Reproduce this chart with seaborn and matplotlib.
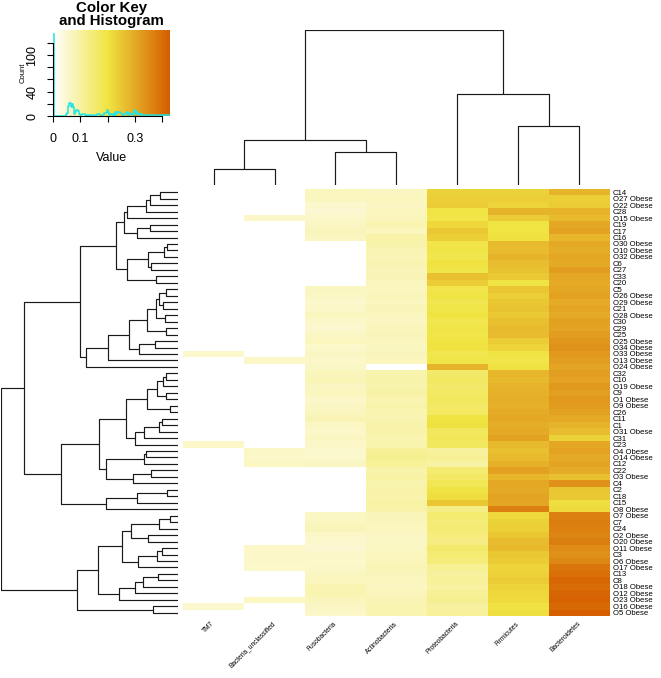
import numpy as np
import pandas as pd
import seaborn as sns
import matplotlib.pyplot as plt
from matplotlib.colors import LinearSegmentedColormap

# rows in the displayed (clustered) order
samples = [
    "C14", "O27 Obese", "O22 Obese", "C28", "O15 Obese", "C19", "C17", "C16",
    "O30 Obese", "O10 Obese", "O32 Obese", "C6", "C27", "C33", "C20", "C5",
    "O26 Obese", "O29 Obese", "C21", "O28 Obese", "C30", "C29", "C25",
    "O25 Obese", "O34 Obese", "O33 Obese", "O13 Obese", "O24 Obese", "C32",
    "C10", "O19 Obese", "C9", "O1 Obese", "O9 Obese", "C26", "C11", "C1",
    "O31 Obese", "C31", "C23", "O4 Obese", "O14 Obese", "C12", "C22",
    "O3 Obese", "C4", "C2", "C18", "C15", "O8 Obese", "O7 Obese", "C7", "C24",
    "O2 Obese", "O20 Obese", "O11 Obese", "C3", "O6 Obese", "O17 Obese", "C13",
    "C8", "O18 Obese", "O12 Obese", "O23 Obese", "O16 Obese", "O5 Obese",
]
phyla = ["TM7", "Bacteria_unclassified", "Fusobacteria", "Actinobacteria",
         "Proteobacteria", "Firmicutes", "Bacteroidetes"]

tm7 = [0.0] * 66
tm7[25], tm7[39], tm7[64] = 0.056, 0.058, 0.055

bact_uncl = [0.0] * 66
for i, v in zip([4, 26, 40, 41, 42, 55, 56, 57, 58, 63],
                [0.057, 0.059, 0.061, 0.058, 0.063, 0.057, 0.060, 0.058, 0.056, 0.062]):
    bact_uncl[i] = v

fuso = [0.071, 0.067, 0.053, 0.049, 0.058, 0.064, 0.074, 0.066,
        0, 0, 0, 0, 0, 0, 0,
        0.066, 0.062, 0.055, 0.060, 0.068, 0.057, 0.051, 0.062, 0.070, 0.056, 0.064, 0.058, 0.061,
        0.072, 0.077, 0.066, 0.070, 0.060, 0.064, 0.068, 0.079, 0.062, 0.058, 0.066, 0.060, 0.054, 0.056, 0.064,
        0, 0, 0, 0, 0, 0, 0,
        0.062, 0.068, 0.074, 0.058, 0.053, 0.050, 0.060, 0.056, 0.060, 0.066, 0.070, 0.082, 0.086,
        0.072, 0.064, 0.058]

actino = [0.066, 0.071, 0.064, 0.069, 0.072,
          0.086, 0.070, 0.092, 0.089,
          0.081, 0.077, 0.083, 0.074, 0.079, 0.073,
          0.070, 0.073, 0.068, 0.076, 0.071, 0.066, 0.072, 0.075, 0.069, 0.067, 0.074, 0.071,
          0.0,
          0.087, 0.091, 0.088, 0.094, 0.085, 0.090, 0.086, 0.083, 0.089, 0.093, 0.084, 0.087,
          0.112, 0.118, 0.108,
          0.091, 0.096, 0.088, 0.093, 0.090, 0.097, 0.092,
          0.076, 0.073, 0.070, 0.064, 0.062, 0.066, 0.070, 0.073, 0.077, 0.074, 0.071, 0.068, 0.072,
          0.079, 0.082, 0.086]

proteo = [0.232, 0.236, 0.243, 0.201, 0.193, 0.222, 0.248, 0.238, 0.192, 0.197, 0.189, 0.203, 0.195, 0.262, 0.241,
          0.191, 0.198, 0.186, 0.194, 0.202, 0.188, 0.197, 0.193, 0.199, 0.204, 0.190, 0.196,
          0.283,
          0.161, 0.168, 0.158, 0.166, 0.172, 0.163, 0.167,
          0.201, 0.207,
          0.171, 0.176, 0.169,
          0.104, 0.112, 0.098,
          0.152, 0.163, 0.182, 0.198, 0.211, 0.252, 0.128,
          0.151, 0.143, 0.148, 0.139, 0.132, 0.158, 0.149, 0.141, 0.113, 0.102, 0.108, 0.099, 0.111,
          0.118, 0.103, 0.109]

firmic = [0.231, 0.236, 0.228, 0.281, 0.243, 0.199, 0.202, 0.207, 0.272, 0.268, 0.284, 0.266, 0.258, 0.247, 0.198,
          0.252, 0.238, 0.249, 0.256, 0.246, 0.262,
          0.271, 0.268, 0.241, 0.229, 0.201, 0.192, 0.204,
          0.279, 0.274, 0.283, 0.287, 0.291, 0.288, 0.296, 0.302, 0.292, 0.299, 0.312, 0.273, 0.262, 0.271,
          0.289, 0.314, 0.279, 0.301, 0.298, 0.309, 0.303, 0.371,
          0.221, 0.232, 0.238, 0.252, 0.268, 0.273, 0.249, 0.242, 0.228, 0.233, 0.241, 0.229, 0.222,
          0.218, 0.203, 0.212]

bacteroid = [0.281, 0.238, 0.244, 0.283, 0.272, 0.302, 0.311, 0.278, 0.298, 0.293, 0.304, 0.299, 0.322, 0.301,
             0.297, 0.303, 0.312, 0.296, 0.306, 0.300, 0.314,
             0.309, 0.321, 0.334, 0.341, 0.328, 0.318, 0.307, 0.319, 0.311, 0.327, 0.316, 0.331, 0.323,
             0.313, 0.298, 0.282, 0.268, 0.231, 0.303, 0.312, 0.298,
             0.308, 0.297, 0.261, 0.342, 0.253, 0.248, 0.212, 0.219,
             0.368, 0.376, 0.371, 0.362, 0.374, 0.351, 0.344, 0.358, 0.389, 0.398, 0.412, 0.403, 0.416,
             0.421, 0.409, 0.428]

# dendrograms as (merge height, left, right); ints are leaf positions
def N(h, a, b):
    return (h, a, b)

grp_a = N(54.7, N(50.7, N(32.3, N(28.3, N(18.3, 0, 1), 2), 3), 4), N(41.0, N(28.3, 5, 6), 7))
grp_b = N(50.7, N(30.0, N(14.3, N(11.0, 8, 9), 10), N(27.5, 11, 12)), N(21.7, 13, 14))
grp_c = N(92.7, N(70.3, N(48.7, N(30.7, N(22.0, N(18.7, N(12.0, 15, 16), N(15.3, 17, 18)),
                                                N(13.3, 19, 20)), N(11.7, 21, 22)),
                               N(39.3, N(22.7, 23, 24), 25)), 26), 27)
grp_d = N(79.3,
          N(52.7, N(31.0, N(21.0, N(15.3, N(12.0, 28, 29), 30), N(12.0, 31, 32)), N(7.7, 33, 34)),
                  N(42.7, N(34.3, N(19.3, N(16.0, 35, 36), 37), 38), 39)),
          N(72.7, N(33.7, N(31.7, 40, 41), 42), N(45.0, N(27.0, 43, 44), 45)))
grp_e = N(72.0, N(41.0, N(11.0, 46, 47), 48), 49)
grp_f = N(101.7,
          N(80.3, N(56.0, N(47.0, N(18.7, N(7.7, 50, 51), 52), N(30.0, 53, 54)),
                          N(40.0, N(21.0, N(16.0, 55, 56), 57), 58)),
                  N(59.3, N(42.7, N(35.3, N(20.3, 59, 60), 61), 62), 63)),
          N(25.0, 64, 65))
row_tree = N(177.7, N(154.3, N(98.3, N(62.7, grp_a, grp_b), grp_c), N(117.3, grp_d, grp_e)), grp_f)
col_tree = N(153.0, N(44.0, N(16.0, 0, 1), N(33.0, 2, 3)), N(90.0, 4, N(58.0, 5, 6)))

key_ticks = [0, 20, 40, 60, 80, 100, 120]
key_tick_labels = ["0", "", "40", "", "", "100", ""]

df = pd.DataFrame(
    np.column_stack([tm7, bact_uncl, fuso, actino, proteo, firmic, bacteroid]),
    index=samples, columns=phyla,
)

plt.rcParams["font.family"] = ["Liberation Sans", "DejaVu Sans"]
cmap = LinearSegmentedColormap.from_list(
    "key", [(0.0, "#FFFFFF"), (0.47, "#F0E442"), (1.0, "#D55E00")])
vmax = df.values.max()

W, H = 661, 678
fig = plt.figure(figsize=(W / 100, H / 100), dpi=100)

def box(x0, y0, x1, y1):
    # pixel box (top-left origin) -> figure fraction rect
    return [x0 / W, 1 - y1 / H, (x1 - x0) / W, (y1 - y0) / H]

ax_hm = fig.add_axes(box(183, 189, 610, 616))
ax_row = fig.add_axes(box(1, 189, 178, 616))
ax_col = fig.add_axes(box(183, 30, 610, 185))
ax_key = fig.add_axes(box(53, 30, 170, 116))

sns.heatmap(df, ax=ax_hm, cmap=cmap, vmin=0, vmax=vmax, cbar=False,
            xticklabels=phyla, yticklabels=samples)
ax_hm.yaxis.tick_right()
ax_hm.tick_params(axis="y", length=0, pad=2, labelsize=5.6, labelrotation=0)
ax_hm.tick_params(axis="x", length=0, pad=5, labelsize=4.8)
plt.setp(ax_hm.get_xticklabels(), rotation=45, ha="right", va="center",
         rotation_mode="anchor")
ax_hm.set_xlabel("")
ax_hm.set_ylabel("")


def draw_tree(ax, node, vertical):
    if isinstance(node, int):
        return node + 0.5, 0.0
    h, left, right = node
    p1, h1 = draw_tree(ax, left, vertical)
    p2, h2 = draw_tree(ax, right, vertical)
    pos = [p1, p1, p2, p2]
    hts = [h1, h, h, h2]
    if vertical:
        ax.plot(pos, hts, color="#1a1a1a", lw=0.85, solid_capstyle="butt")
    else:
        ax.plot(hts, pos, color="#1a1a1a", lw=0.85, solid_capstyle="butt")
    return (p1 + p2) / 2, h


draw_tree(ax_row, row_tree, vertical=False)
ax_row.set_xlim(row_tree[0], 0)
ax_row.set_ylim(len(samples), 0)
ax_row.axis("off")

draw_tree(ax_col, col_tree, vertical=True)
ax_col.set_xlim(0, len(phyla))
ax_col.set_ylim(0, col_tree[0])
ax_col.axis("off")

# colour key with histogram of values
counts, edges = np.histogram(df.values.ravel(), bins=np.linspace(0, vmax, 101))
ytop = counts.max() / 0.95
ax_key.imshow(np.linspace(0, vmax, 256)[None, :], cmap=cmap, aspect="auto",
              extent=[0, vmax, 0, ytop], vmin=0, vmax=vmax)
ax_key.step(edges, np.append(counts, counts[-1]), where="post", color="#22E5E5", lw=1.1)
ax_key.set_xlim(0, vmax)
ax_key.set_ylim(0, ytop)
ax_key.set_xticks([0, 0.1, 0.2, 0.3, 0.4])
ax_key.set_xticklabels(["0", "0.1", "", "0.3", ""])
ax_key.set_yticks(key_ticks)
ax_key.set_yticklabels(key_tick_labels, rotation=90, va="center")
ax_key.tick_params(length=4.5, width=0.8, labelsize=9)
ax_key.tick_params(axis="x", pad=8)
ax_key.tick_params(axis="y", pad=6)
for s in ["top", "right"]:
    ax_key.spines[s].set_visible(False)
ax_key.spines["bottom"].set_bounds(0, 0.4)
ax_key.spines["left"].set_bounds(0, 120)
ax_key.set_xlabel("Value", fontsize=9, labelpad=5)
ax_key.set_ylabel("Count", fontsize=5.5, labelpad=0)
fig.text(111.5 / W, 1 - 1 / H, "Color Key\nand Histogram", ha="center", va="top",
         fontsize=10.8, fontweight="bold", linespacing=0.95)

fig.savefig("out.png", dpi=100)
